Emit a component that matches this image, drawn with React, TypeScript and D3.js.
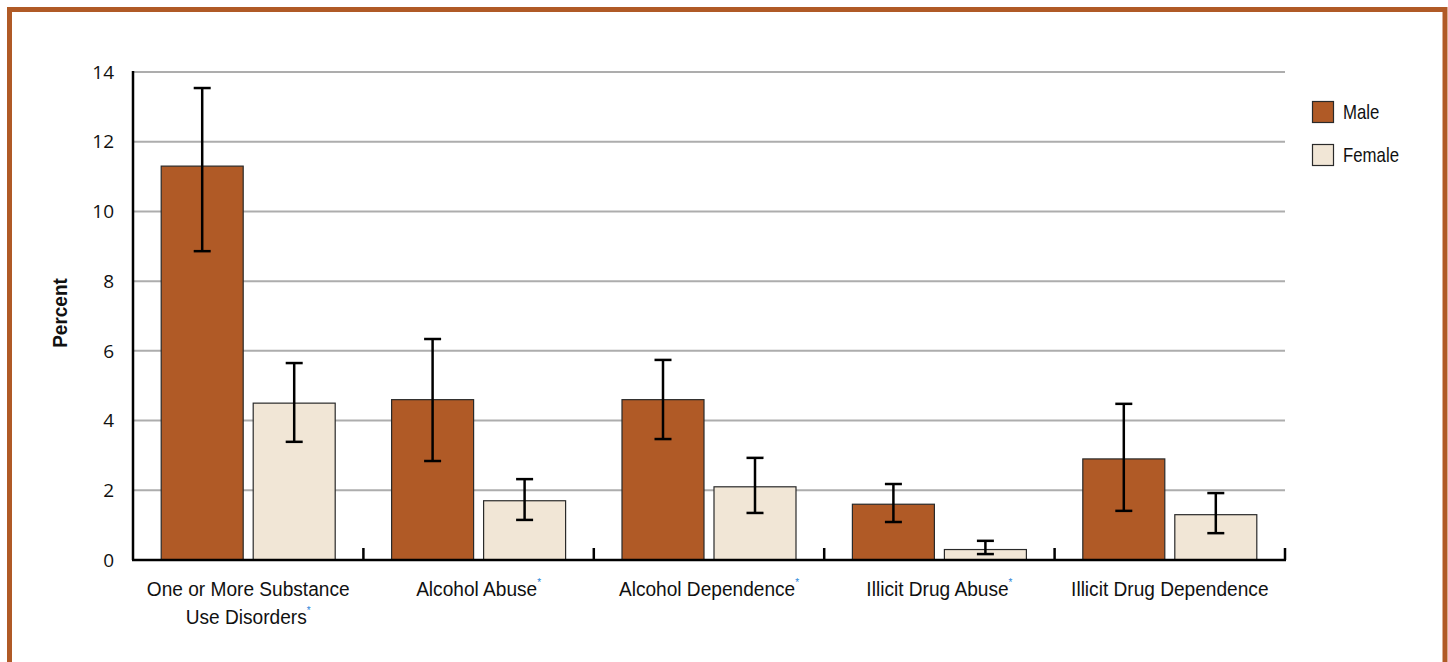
import React from "react";
import * as d3 from "d3";

const categories = [
  ["One or More Substance", "Use Disorders"],
  ["Alcohol Abuse"],
  ["Alcohol Dependence"],
  ["Illicit Drug Abuse"],
  ["Illicit Drug Dependence"],
];
const starred = [true, true, true, true, false];
const seriesNames = ["Male", "Female"];
const maleValues = [11.3, 4.6, 4.6, 1.6, 2.9];
const femaleValues = [4.5, 1.7, 2.1, 0.3, 1.3];
const maleLow = [8.86, 2.84, 3.47, 1.09, 1.41];
const maleHigh = [13.54, 6.34, 5.74, 2.18, 4.48];
const femaleLow = [3.39, 1.15, 1.35, 0.17, 0.77];
const femaleHigh = [5.65, 2.32, 2.93, 0.55, 1.92];
const yTicks = [0, 2, 4, 6, 8, 10, 12, 14];

const colors = ["#B05A26", "#F1E6D6"];
const sans = "'Liberation Sans', Arial, sans-serif";

export default function App() {
  const W = 1448, H = 662;
  const x0 = 133, x1 = 1285, yTop = 72, yBot = 560;
  const y = d3.scaleLinear().domain([0, 14]).range([yBot, yTop]);
  const xb = d3.scaleBand<number>().domain(d3.range(categories.length)).range([x0, x1]);
  const inner = d3.scaleBand<number>().domain([0, 1]).range([28.2, xb.bandwidth() - 28.2]).paddingInner(10 / 92);
  const series = [
    { vals: maleValues, lo: maleLow, hi: maleHigh },
    { vals: femaleValues, lo: femaleLow, hi: femaleHigh },
  ];
  const capW = 17;
  return (
    <svg width={W} height={H} style={{ position: "absolute", left: 0, top: 0 }}>
      <rect x={0} y={0} width={W} height={H} fill="#fff" />
      <rect x={9.5} y={9.5} width={1435.5} height={700} fill="none" stroke="#B05A26" strokeWidth={5} />
      {yTicks.map((t) => (
        <g key={t}>
          {t > 0 && <line x1={x0} x2={x1} y1={y(t)} y2={y(t)} stroke="#ADADAD" strokeWidth={2} />}
          <text x={114} y={y(t)} dy="0.35em" textAnchor="end" fontFamily="'Open Sans', sans-serif" fontSize={19} fill="#111">{t}</text>
        </g>
      ))}
      <text transform={`translate(67,${313}) rotate(-90) scale(0.95,1)`} textAnchor="middle" fontFamily={sans} fontWeight="bold" fontSize={20} fill="#111">Percent</text>
      {categories.map((c, i) => (
        <g key={i} transform={`translate(${xb(i)},0)`}>
          {series.map((s, k) => {
            const bx = inner(k)!;
            const bw = inner.bandwidth();
            const cx = bx + bw / 2;
            return (
              <g key={k}>
                <rect x={bx} y={y(s.vals[i])} width={bw} height={yBot - y(s.vals[i])} fill={colors[k]} stroke="#2a2a2a" strokeWidth={1.2} />
                <line x1={cx} x2={cx} y1={y(s.hi[i])} y2={y(s.lo[i])} stroke="#000" strokeWidth={2.5} />
                <line x1={cx - capW / 2} x2={cx + capW / 2} y1={y(s.hi[i])} y2={y(s.hi[i])} stroke="#000" strokeWidth={2.5} />
                <line x1={cx - capW / 2} x2={cx + capW / 2} y1={y(s.lo[i])} y2={y(s.lo[i])} stroke="#000" strokeWidth={2.5} />
              </g>
            );
          })}
          {c.map((line, li) => (
            <g key={li} transform={`translate(${xb.bandwidth() / 2},${596 + li * 28}) scale(0.91,1)`}>
              <text x={0} y={0} textAnchor="middle" fontFamily={sans} fontSize={21} fill="#111">
                {line}
                {li === c.length - 1 && starred[i] && (
                  <tspan fill="#2E86D9" fontSize={11} dy={-10}>*</tspan>
                )}
              </text>
            </g>
          ))}
        </g>
      ))}
      {d3.range(1, categories.length + 1).map((i) => (
        <line key={i} x1={x0 + i * xb.bandwidth()} x2={x0 + i * xb.bandwidth()} y1={548} y2={yBot} stroke="#000" strokeWidth={2.5} />
      ))}
      <line x1={x0} x2={x0} y1={yTop - 1} y2={yBot} stroke="#000" strokeWidth={2.5} />
      <line x1={x0 - 1} x2={x1 + 1} y1={yBot} y2={yBot} stroke="#000" strokeWidth={2.5} />
      {seriesNames.map((n, k) => (
        <g key={n} transform={`translate(1312,${101 + k * 43})`}>
          <rect x={0.5} y={0.5} width={21} height={21} fill={colors[k]} stroke="#2a2a2a" strokeWidth={1.2} />
          <g transform={`translate(31,18) scale(0.84,1)`}>
            <text x={0} y={0} fontFamily={sans} fontSize={20} fill="#111">{n}</text>
          </g>
        </g>
      ))}
    </svg>
  );
}
